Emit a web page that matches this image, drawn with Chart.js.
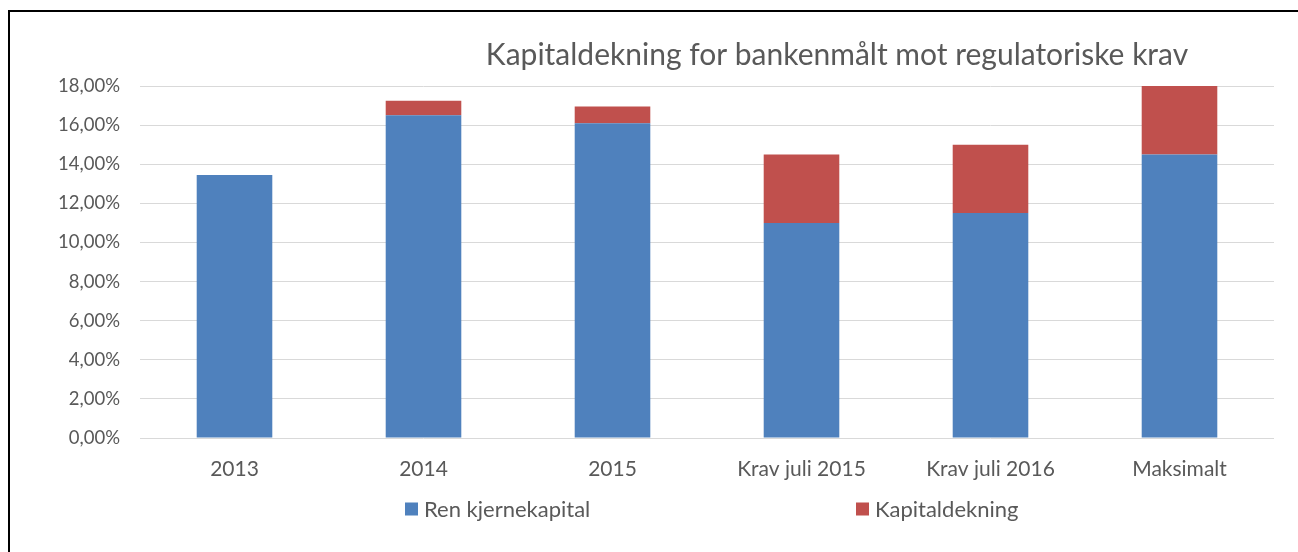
<!DOCTYPE html>
<html>
<head>
<meta charset="utf-8">
<script src="https://cdn.jsdelivr.net/npm/chart.js@4"></script>
<style>
  body { margin: 0; background: #fff; overflow: hidden; }
  #wrap { position: relative; width: 1298px; height: 552px; }
  #frame {
    position: absolute; left: 8px; top: 10px; right: -10px; bottom: -10px;
    border-left: 2px solid #000; border-top: 2px solid #000;
    pointer-events: none;
  }
</style>
</head>
<body>
<div id="wrap">
  <canvas id="capChart" width="1298" height="552"></canvas>
  <div id="frame"></div>
</div>
<script>
const chartTitle = 'Kapitaldekning for bankenmålt mot regulatoriske krav';
const categories = ['2013', '2014', '2015', 'Krav juli 2015', 'Krav juli 2016', 'Maksimalt'];
const seriesNames = ['Ren kjernekapital', 'Kapitaldekning'];
const renKjernekapital = [13.45, 16.5, 16.1, 11.0, 11.5, 14.5];
const kapitaldekning = [null, 0.75, 0.85, 3.5, 3.5, 3.5];

const textColor = '#595959';

// title sits off-centre in the original, so draw it ourselves
const offsetTitle = {
    id: 'offsetTitle',
    afterDraw(chart, args, opts) {
        const ctx = chart.ctx;
        ctx.save();
        ctx.font = opts.font;
        ctx.fillStyle = opts.color;
        ctx.textAlign = 'center';
        ctx.textBaseline = 'middle';
        ctx.fillText(opts.text, opts.x, opts.y);
        ctx.restore();
    }
};

// legend items are spread far apart, which the built-in legend can't do
const spreadLegend = {
    id: 'spreadLegend',
    afterDraw(chart, args, opts) {
        const ctx = chart.ctx;
        ctx.save();
        ctx.font = opts.font;
        ctx.textBaseline = 'middle';
        chart.data.datasets.forEach((ds, i) => {
            const x = opts.x[i];
            ctx.fillStyle = ds.backgroundColor;
            ctx.fillRect(x, opts.y - opts.box / 2, opts.box, opts.box);
            ctx.fillStyle = opts.color;
            ctx.fillText(ds.label, x + opts.box + 6, opts.y + 1);
        });
        ctx.restore();
    }
};

const ctx = document.getElementById('capChart').getContext('2d');

new Chart(ctx, {
    type: 'bar',
    data: {
        labels: categories,
        datasets: [
            {
                label: seriesNames[0],
                data: renKjernekapital,
                backgroundColor: '#4f81bd'
            },
            {
                label: seriesNames[1],
                data: kapitaldekning,
                backgroundColor: '#c0504d'
            }
        ]
    },
    options: {
        responsive: false,
        animation: false,
        devicePixelRatio: 1,
        layout: {
            padding: { left: 10, right: 24, top: 86, bottom: 0 }
        },
        datasets: {
            bar: { categoryPercentage: 0.8, barPercentage: 0.5 }
        },
        plugins: {
            legend: { display: false },
            title: { display: false },
            tooltip: { enabled: false },
            offsetTitle: {
                text: chartTitle,
                x: 837,
                y: 55,
                font: '30px Lato',
                color: textColor
            },
            spreadLegend: {
                x: [405, 856],
                y: 509,
                box: 13,
                font: '22px Lato',
                color: textColor
            }
        },
        scales: {
            x: {
                stacked: true,
                grid: { display: false },
                border: { display: false },
                ticks: {
                    color: textColor,
                    font: { family: 'Lato', size: 21 },
                    padding: 11,
                    maxRotation: 0,
                    autoSkip: false
                },
                afterFit(scale) { scale.height = 114; }
            },
            y: {
                stacked: true,
                min: 0,
                max: 18,
                grid: { color: '#d9d9d9', drawTicks: false },
                border: { display: false },
                ticks: {
                    stepSize: 2,
                    color: textColor,
                    font: { family: 'Lato', size: 18.5 },
                    padding: 20,
                    callback: v => v.toFixed(2).replace('.', ',') + '%'
                },
                afterFit(scale) { scale.width = 130; }
            }
        }
    },
    plugins: [offsetTitle, spreadLegend]
});
</script>
</body>
</html>
